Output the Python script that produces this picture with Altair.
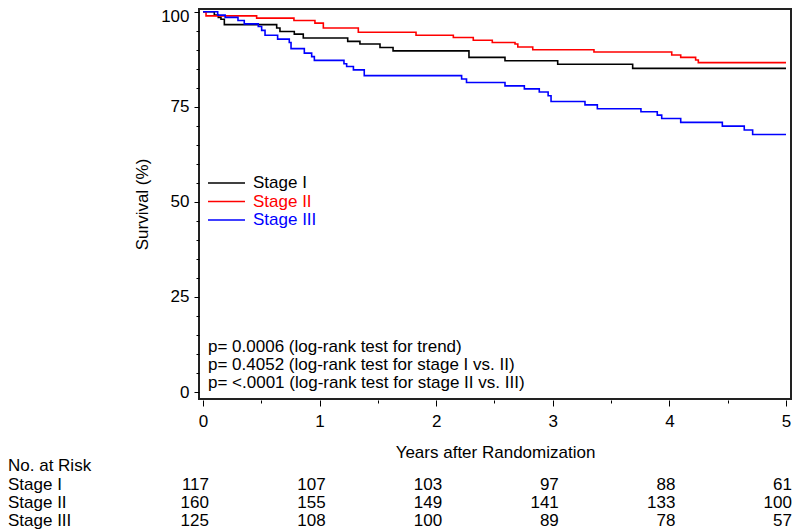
import altair as alt
import pandas as pd

# ---------------- data ----------------
stages = ["Stage I", "Stage II", "Stage III"]
colors = ["#000000", "#FF0000", "#0000FF"]

t_I = [0, 0.097, 0.131, 0.154, 0.183, 0.632, 0.66, 0.783, 0.86, 1.241,
       1.346, 1.518, 1.63, 2.281, 2.59, 3.042, 3.685, 5.0]
s_I = [100, 99.1, 98.5, 98.0, 96.6, 95.7, 94.8, 94.1, 93.1, 92.2,
       91.5, 90.6, 89.7, 88.0, 87.1, 86.2, 85.1, 85.1]

t_II = [0, 0.026, 0.46, 0.78, 0.96, 1.032, 1.332, 1.827, 2.147, 2.318,
        2.481, 2.676, 2.70, 2.828, 3.353, 4.02, 4.097, 4.225, 4.248, 5.0]
s_II = [100, 98.9, 98.3, 97.7, 97.0, 95.7, 94.6, 93.8, 93.2, 92.5,
        91.9, 91.5, 90.7, 90.0, 89.4, 88.6, 88.0, 87.3, 86.6, 86.6]

t_III = [0, 0.126, 0.19, 0.30, 0.354, 0.474, 0.503, 0.532, 0.64, 0.74,
         0.755, 0.869, 0.932, 0.955, 1.209, 1.232, 1.29, 1.383, 2.218, 2.26,
         2.59, 2.756, 2.884, 2.96, 2.985, 3.276, 3.382, 3.756, 3.896, 3.934,
         4.097, 4.454, 4.642, 4.714, 5.0]
s_III = [100, 99.1, 98.5, 97.7, 96.8, 96.1, 95.1, 93.8, 92.8, 91.9,
         90.3, 89.1, 88.2, 87.2, 86.3, 85.6, 84.7, 83.2, 82.3, 81.4,
         80.5, 79.7, 78.9, 77.9, 76.4, 75.5, 74.5, 73.7, 72.8, 71.9,
         70.9, 69.9, 68.9, 67.7, 67.7]

risk_years = [0, 1, 2, 3, 4, 5]
risk_I = [117, 107, 103, 97, 88, 61]
risk_II = [160, 155, 149, 141, 133, 100]
risk_III = [125, 108, 100, 89, 78, 57]

x_tick_values = [i * 0.25 for i in range(21)]
y_tick_values = [i * 5 for i in range(21)]

pvalue_lines = [
    "p= 0.0006 (log-rank test for trend)",
    "p= 0.4052 (log-rank test for stage I vs. II)",
    "p= <.0001 (log-rank test for stage II vs. III)",
]
x_title = "Years after Randomization"
y_title = "Survival (%)"
risk_title = "No. at Risk"

# ---------------- layout ----------------
FONT = "Liberation Sans"
FS = 17
W, H = 592, 390
xdom = [-0.0343, 5.0429]
ydom = [-1.84, 100.71]

curve_df = pd.concat([
    pd.DataFrame({"t": t, "s": s, "stage": st})
    for t, s, st in zip([t_I, t_II, t_III], [s_I, s_II, s_III], stages)
])

x_scale = alt.Scale(domain=xdom, nice=False, zero=False)
y_scale = alt.Scale(domain=ydom, nice=False, zero=False)
color_scale = alt.Scale(domain=stages, range=colors)

x_axis = alt.Axis(
    values=x_tick_values,
    labelExpr="datum.value % 1 === 0 ? format(datum.value, 'd') : ''",
    tickSize={"condition": {"test": "datum.value % 1 === 0", "value": 6}, "value": 3},
    domain=False, grid=False, offset=1, tickColor="black",
    labelFont=FONT, labelFontSize=FS, labelColor="black", labelPadding=7,
    labelFlush=False, labelOverlap=False,
    title=x_title, titleFont=FONT, titleFontSize=FS, titleFontWeight="normal",
    titleColor="black", titlePadding=15,
)
y_axis = alt.Axis(
    values=y_tick_values,
    labelExpr="datum.value % 25 === 0 ? format(datum.value, 'd') : ''",
    tickSize={"condition": {"test": "datum.value % 25 === 0", "value": 5}, "value": 3},
    labelOffset={"condition": {"test": "datum.value === 100", "value": 5}, "value": 0},
    domain=False, grid=False, tickColor="black",
    labelFont=FONT, labelFontSize=FS, labelColor="black", labelPadding=5,
    labelFlush=False, labelOverlap=False,
    title=y_title, titleFont=FONT, titleFontSize=FS, titleFontWeight="normal",
    titleColor="black", titlePadding=9,
)

curves = alt.Chart(curve_df).mark_line(
    interpolate="step-after", strokeWidth=1.6, clip=True
).encode(
    x=alt.X("t:Q", scale=x_scale, axis=x_axis),
    y=alt.Y("s:Q", scale=y_scale, axis=y_axis),
    color=alt.Color("stage:N", scale=color_scale, legend=None),
)

layers = [curves]

# legend (manual)
leg_y = [174, 192.5, 211]
for st, c, yy in zip(stages, colors, leg_y):
    d = pd.DataFrame({"label": [st]})
    layers.append(alt.Chart(d).mark_rule(strokeWidth=1.6).encode(
        x=alt.value(9), x2=alt.value(46), y=alt.value(yy), color=alt.value(c)))
    layers.append(alt.Chart(d).mark_text(
        align="left", baseline="middle", font=FONT, fontSize=FS).encode(
        x=alt.value(54), y=alt.value(yy), text="label:N", color=alt.value(c)))

# p-values
p_y = [338, 356, 374]
for line, yy in zip(pvalue_lines, p_y):
    d = pd.DataFrame({"label": [line]})
    layers.append(alt.Chart(d).mark_text(
        align="left", baseline="middle", font=FONT, fontSize=FS, color="black").encode(
        x=alt.value(9), y=alt.value(yy), text="label:N"))

# risk table
d = pd.DataFrame({"label": [risk_title]})
layers.append(alt.Chart(d).mark_text(
    align="left", baseline="middle", font=FONT, fontSize=FS, color="black").encode(
    x=alt.value(-191), y=alt.value(457), text="label:N"))

row_y = [476, 494, 512]
for st, vals, yy in zip(stages, [risk_I, risk_II, risk_III], row_y):
    d = pd.DataFrame({"label": [st]})
    layers.append(alt.Chart(d).mark_text(
        align="left", baseline="middle", font=FONT, fontSize=FS, color="black").encode(
        x=alt.value(-191), y=alt.value(yy), text="label:N"))
    rd = pd.DataFrame({"year": risk_years, "n": vals})
    layers.append(alt.Chart(rd).mark_text(
        align="right", baseline="middle", dx=6, font=FONT, fontSize=FS, color="black").encode(
        x=alt.X("year:Q", scale=x_scale), y=alt.value(yy), text="n:Q"))

chart = alt.layer(*layers).properties(
    width=W, height=H,
    background="white",
    autosize=alt.AutoSizeParams(type="none"),
    padding={"left": 191, "top": 1, "right": 1, "bottom": 133},
).configure_view(stroke="#222222", strokeWidth=2)

chart.save("out.html", embed_options={"renderer": "svg", "actions": False})
